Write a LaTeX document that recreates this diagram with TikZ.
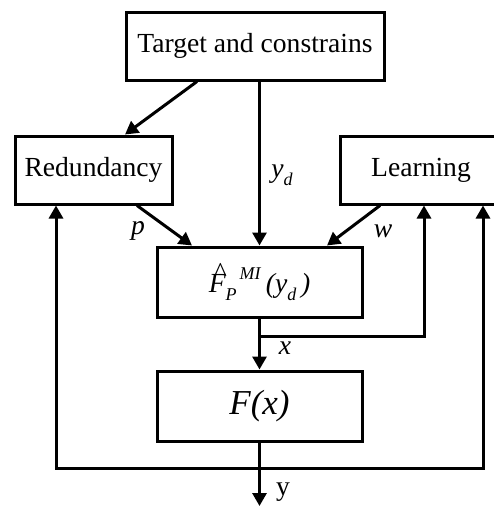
\documentclass[tikz,border=0pt]{standalone}
\usepackage{fontspec}
\setmainfont{Liberation Serif}
\usetikzlibrary{arrows.meta,positioning,calc}

\newcommand{\smalltxt}[1]{{\fontsize{18}{20}\selectfont\textit{#1}}}

\begin{document}
\begin{tikzpicture}[x=1pt, y=-1pt, line width=3pt,
  every node/.style={font=\fontsize{27.6}{32}\selectfont},
  block/.style={draw,rectangle,inner sep=0pt},
  arr/.style={-{Triangle[length=13pt,width=14pt]}}]
  \useasboundingbox (0,0) rectangle (494,506);
  \clip (0,0) rectangle (494,506);

  \node[block,minimum width=258pt,minimum height=68pt] (target) at (255,46) {Target and constrains};
  \node[block,minimum width=157pt,minimum height=68pt] (redund) at (93.5,170) {Redundancy};
  \node[block,minimum width=162pt,minimum height=68pt] (learn) at (421,170) {Learning};
  \node[block,minimum width=205pt,minimum height=70pt] (fhat) at (259.5,282)
    {\textit{F\llap{\raisebox{0.42em}{\^{}}\hspace{0.02em}}}\raisebox{-0.28em}{\smalltxt{P}}\raisebox{0.5em}{\smalltxt{\,MI}}\,\textit{(y}\raisebox{-0.28em}{\smalltxt{d}}\,\textit{)}};
  \node[block,minimum width=205pt,minimum height=70pt,font=\fontsize{35}{40}\selectfont] (fx) at (259.5,406) {\textit{F(x)}};

  \coordinate (jx) at (259.5,336);
  \coordinate (jy) at (259.5,468);
  \coordinate (yout) at (259.5,506);

  \draw[arr] (target.south -| fhat.north) -- (fhat.north);
  \draw[arr] ([xshift=-58pt]target.south) -- ([xshift=31.5pt]redund.north);
  \draw[arr] ([xshift=43.5pt]redund.south) -- ([xshift=-67.5pt]fhat.north);
  \draw[arr] ([xshift=-41pt]learn.south) -- ([xshift=67.5pt]fhat.north);

  % output of the estimator, split to learning
  \draw (fhat.south) -- (jx);
  \draw[arr] (jx) -- (fx.north);
  \draw[arr] (jx) -| ([xshift=3pt]learn.south);

  % plant output and feedback
  \draw (fx.south) -- (jy);
  \draw[arr] (jy) -- (yout);
  \draw[arr] (jy) -| ([xshift=-37.5pt]redund.south);
  \draw[arr] (jy) -| ([xshift=62pt]learn.south);

  \node (lyd) at (282,175) {\textit{y}\raisebox{-0.28em}{\smalltxt{d}}};
  \node (lp) at (138,231) {\textit{p}};
  \node (lw) at (383,231) {\textit{w}};
  \node (lx) at (285,348) {\textit{x}};
  \node (ly) at (283,492) {y};
\end{tikzpicture}
\end{document}
